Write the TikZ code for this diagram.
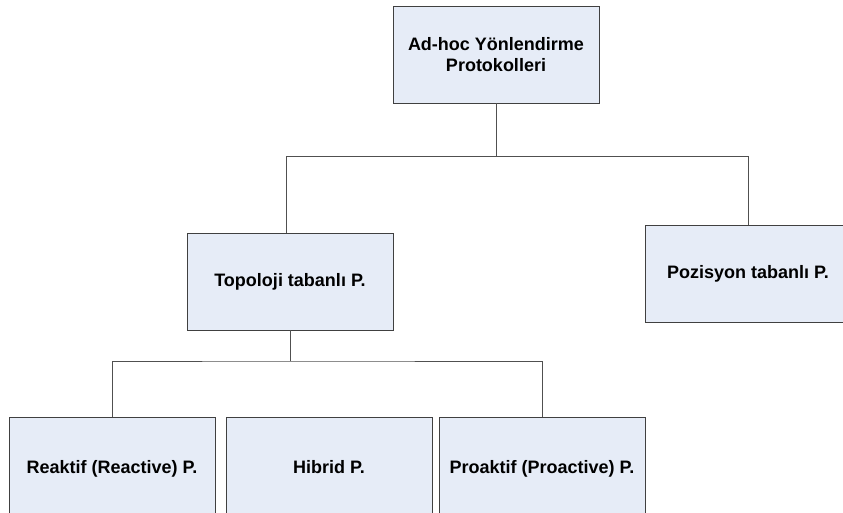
\documentclass[tikz,border=0pt]{standalone}
\usepackage{fontspec}
\setmainfont{Liberation Sans}
\definecolor{boxfill}{RGB}{230,236,247}
\definecolor{boxline}{RGB}{64,64,64}
\definecolor{linkline}{RGB}{80,80,80}
\begin{document}
\begin{tikzpicture}[x=1pt,y=-1pt,
  stagebox/.style={draw=boxline, fill=boxfill, line width=0.9pt,
    minimum width=206pt, minimum height=97pt, inner sep=0pt, align=center,
    font=\bfseries\fontsize{18}{20.5}\selectfont},
  tallbox/.style={stagebox, minimum height=104pt},
  link/.style={draw=linkline, line width=0.9pt}]
  \useasboundingbox (0,0) rectangle (843,512);
  \clip (0,0) rectangle (843,512);

  % hierarchy boxes
  \node[stagebox] (root) at (496,54.5) {Ad-hoc Yönlendirme\\Protokolleri};
  \node[stagebox] (topo) at (290,281.5) {Topoloji tabanlı P.};
  \node[stagebox] (poz)  at (748,274) {Pozisyon tabanlı P.};
  \node[tallbox] (rea)  at (112,469) {\raisebox{3.5pt}{Reaktif (Reactive) P.}};
  \node[tallbox] (hib)  at (329,469) {\raisebox{3.5pt}{Hibrid P.}};
  \node[tallbox] (pro)  at (542,469) {\raisebox{3.5pt}{Proaktif (Proactive) P.}};

  % first level links
  \coordinate (j1) at (496,156);
  \coordinate (bl) at (286,156);
  \coordinate (br) at (748,156);
  \draw[link] (root.south) -- (j1);
  \draw[link] (topo.north -| bl) -- (bl) -- (br) -- (poz.north);

  % second level links
  \coordinate (j2) at (290,361);
  \draw[link] (topo.south) -- (j2);
  \draw[link] (rea.north) |- (j2) -| (pro.north);
\end{tikzpicture}
\end{document}
